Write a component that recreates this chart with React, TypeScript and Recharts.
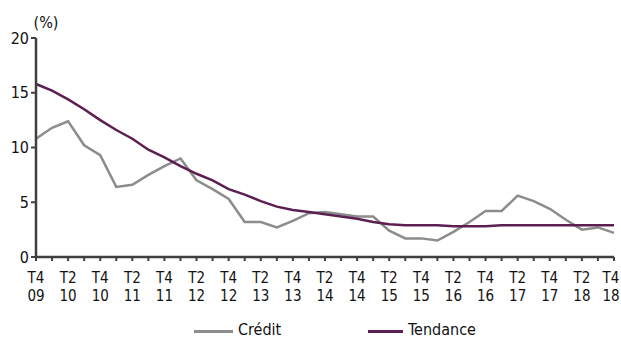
import { LineChart, Line, XAxis, YAxis, Legend } from 'recharts'

const quarters = [
  'T4 09', 'T1 10', 'T2 10', 'T3 10', 'T4 10', 'T1 11', 'T2 11', 'T3 11', 'T4 11',
  'T1 12', 'T2 12', 'T3 12', 'T4 12', 'T1 13', 'T2 13', 'T3 13', 'T4 13',
  'T1 14', 'T2 14', 'T3 14', 'T4 14', 'T1 15', 'T2 15', 'T3 15', 'T4 15',
  'T1 16', 'T2 16', 'T3 16', 'T4 16', 'T1 17', 'T2 17', 'T3 17', 'T4 17',
  'T1 18', 'T2 18', 'T3 18', 'T4 18',
]

const credit = [
  10.8, 11.8, 12.4, 10.2, 9.3, 6.4, 6.6, 7.5, 8.3,
  9.0, 7.0, 6.2, 5.3, 3.2, 3.2, 2.7, 3.3,
  4.0, 4.1, 3.9, 3.7, 3.7, 2.4, 1.7, 1.7,
  1.5, 2.3, 3.2, 4.2, 4.2, 5.6, 5.1, 4.4,
  3.4, 2.5, 2.7, 2.2,
]

const tendance = [
  15.8, 15.2, 14.4, 13.5, 12.5, 11.6, 10.8, 9.8, 9.1,
  8.3, 7.6, 7.0, 6.2, 5.7, 5.1, 4.6, 4.3,
  4.1, 3.9, 3.7, 3.5, 3.2, 3.0, 2.9, 2.9,
  2.9, 2.8, 2.8, 2.8, 2.9, 2.9, 2.9, 2.9,
  2.9, 2.9, 2.9, 2.9,
]

const yTicks = [0, 5, 10, 15, 20]

const data = quarters.map((q, i) => ({ q, credit: credit[i], tendance: tendance[i] }))

const FONT = '"Liberation Sans Narrow", "DejaVu Sans Condensed", "Open Sans", sans-serif'
const GREY = '#8c8c8c'
const PURPLE = '#5b1f52'
const AXIS = '#3f3f3f'
const W = 621

const QuarterTick = ({ x, y, payload, index }: any) => {
  if (index % 2 !== 0) return null
  const [t, yr] = String(payload.value).split(' ')
  // keep the last label inside the picture
  const tx = Math.min(x, W - 10)
  return (
    <text x={tx} y={y} textAnchor="middle" fontFamily={FONT} fontSize={15} fill="#111">
      <tspan x={tx} dy={20}>{t}</tspan>
      <tspan x={tx} dy={18}>{yr}</tspan>
    </text>
  )
}

const PercentLabel = ({ viewBox }: any) => (
  <text x={viewBox.x + viewBox.width + 10} y={viewBox.y - 10} textAnchor="middle" fontFamily={FONT} fontSize={16} fill="#111">
    (%)
  </text>
)

const LegendContent = () => (
  <div style={{ position: 'relative', height: 30, fontFamily: FONT, fontSize: 16, color: '#111' }}>
    <div style={{ position: 'absolute', left: 194, top: 19, width: 39, height: 3, background: GREY }} />
    <span style={{ position: 'absolute', left: 238, top: 9 }}>Crédit</span>
    <div style={{ position: 'absolute', left: 368, top: 19, width: 35, height: 3, background: PURPLE }} />
    <span style={{ position: 'absolute', left: 408, top: 9 }}>Tendance</span>
  </div>
)

export default function App() {
  return (
    <div style={{ position: 'absolute', left: 0, top: 0, background: '#fff' }}>
      <LineChart width={W} height={341} data={data} margin={{ top: 38, right: 7, left: 0, bottom: 0 }}>
        <XAxis
          dataKey="q"
          interval={0}
          tick={<QuarterTick />}
          tickLine={{ stroke: AXIS, strokeWidth: 2 }}
          axisLine={{ stroke: AXIS, strokeWidth: 2.5 }}
          tickSize={4}
          height={54}
        />
        <YAxis
          domain={[0, 20]}
          ticks={yTicks}
          width={36}
          tick={{ fontFamily: FONT, fontSize: 16, fill: '#111' }}
          tickLine={{ stroke: AXIS, strokeWidth: 2 }}
          axisLine={{ stroke: AXIS, strokeWidth: 2.5 }}
          tickSize={5}
          tickMargin={2}
          label={<PercentLabel />}
        />
        <Legend verticalAlign="bottom" height={30} content={<LegendContent />} wrapperStyle={{ left: 0, width: W, bottom: 0 }} />
        <Line type="linear" dataKey="credit" stroke={GREY} strokeWidth={2.5} dot={false} isAnimationActive={false} />
        <Line type="linear" dataKey="tendance" stroke={PURPLE} strokeWidth={2.5} dot={false} isAnimationActive={false} />
      </LineChart>
    </div>
  )
}
